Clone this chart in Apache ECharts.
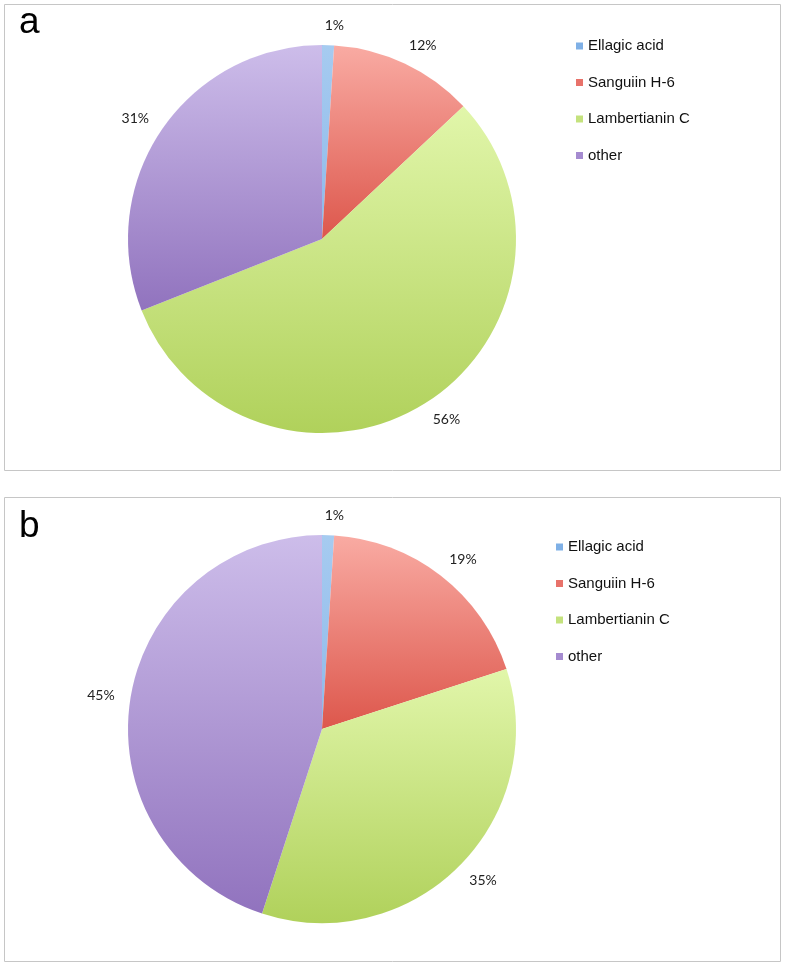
<!DOCTYPE html>
<html>
<head>
<meta charset="utf-8">
<script src="https://cdn.jsdelivr.net/npm/echarts@6/dist/echarts.min.js"></script>
<style>
  html, body { margin: 0; padding: 0; background: #fff; }
  #chart { width: 786px; height: 967px; }
</style>
</head>
<body>
<div id="chart"></div>
<script>
// compound names, shared by both panels
const categories = ['Ellagic acid', 'Sanguiin H-6', 'Lambertianin C', 'other'];
// percent shares
const valuesA = [1, 12, 56, 31];
const valuesB = [1, 19, 35, 45];

// top / bottom shade of each slice
const topColors = ['#a6cbf0', '#f9aba3', '#e1f6aa', '#cdbdea'];
const bottomColors = ['#8fb9ea', '#dd574c', '#b0d15b', '#9173be'];
const legendColors = ['#7fb0e6', '#e8726a', '#c4e27d', '#a58bd0'];

const shade = (i) => new echarts.graphic.LinearGradient(0, 0, 0, 1, [
    { offset: 0, color: topColors[i] },
    { offset: 1, color: bottomColors[i] }
]);

const makePie = (values, center) => ({
    type: 'pie',
    center,
    radius: 194,
    startAngle: 90,
    clockwise: true,
    silent: true,
    animation: false,
    avoidLabelOverlap: false,
    label: {
        show: true,
        position: 'outside',
        formatter: '{c}%',
        fontFamily: 'Lato',
        fontSize: 14,
        color: '#222',
        distanceToLabelLine: -4
    },
    // hidden line, only sets how far out the labels sit
    labelLine: { show: false, length: 20, length2: 0 },
    emphasis: { disabled: true },
    data: categories.map((name, i) => ({ name, value: values[i], itemStyle: { color: shade(i) } }))
});

const makeLegend = (left, top) => ({
    orient: 'vertical',
    left,
    top,
    icon: 'rect',
    itemWidth: 7,
    itemHeight: 7,
    itemGap: 19.5,
    selectedMode: false,
    textStyle: { fontFamily: 'Liberation Sans', fontSize: 15, color: '#111', lineHeight: 17 },
    data: categories.map((name, i) => ({ name, itemStyle: { color: legendColors[i] } }))
});

const titleStyle = { fontFamily: 'Liberation Sans', fontSize: 37, fontWeight: 'normal', color: '#000' };

const chart = echarts.init(document.getElementById('chart'));
chart.setOption({
    backgroundColor: '#fff',
    animation: false,
    title: [
        { text: 'a', left: 14, top: -1, textStyle: titleStyle },
        { text: 'b', left: 14, top: 503, textStyle: titleStyle }
    ],
    legend: [makeLegend(571, 32.5), makeLegend(551, 533.5)],
    graphic: [
        { type: 'rect', shape: { x: 4.5, y: 4.5, width: 776, height: 466 }, style: { fill: 'none', stroke: '#c6c6c6', lineWidth: 1 } },
        { type: 'rect', shape: { x: 4.5, y: 497.5, width: 776, height: 464 }, style: { fill: 'none', stroke: '#c6c6c6', lineWidth: 1 } }
    ],
    series: [
        makePie(valuesA, [322, 239]),
        makePie(valuesB, [322, 729])
    ]
});
</script>
</body>
</html>
